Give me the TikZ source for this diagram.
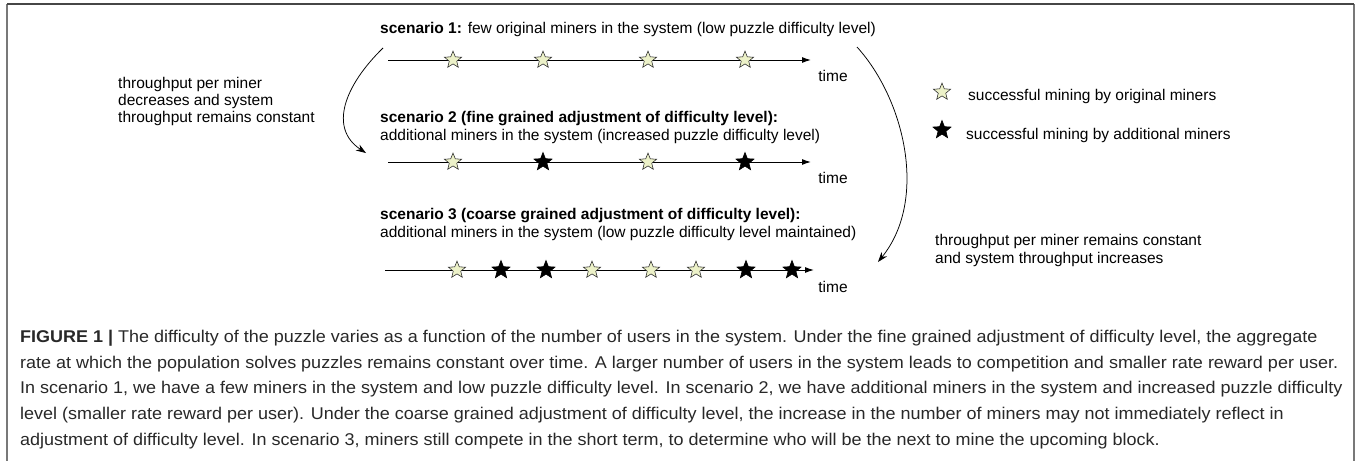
\documentclass[tikz,border=0pt]{standalone}
\usepackage{fontspec}
\setmainfont{Liberation Sans}
\usetikzlibrary{shapes.geometric,arrows.meta}
\definecolor{starfill}{RGB}{236,241,200}
\definecolor{framegray}{RGB}{120,120,120}
\definecolor{topgray}{RGB}{70,70,70}
\definecolor{captext}{RGB}{40,40,40}
\newlength\capw
\newcommand\capfont{\fontsize{17}{20}\selectfont}
\begin{document}
\settowidth\capw{\capfont rate at which the population solves puzzles remains constant over time. A larger number of users in the system leads to competition and smaller rate reward per user.}%
\pgfmathsetmacro\capscale{1318/\capw}%
\begin{tikzpicture}[x=1pt,y=-1pt,
  txt/.style={anchor=base west, inner sep=0pt, font=\fontsize{15.5}{17}\selectfont},
  timelbl/.style={anchor=base, inner sep=0pt, font=\fontsize{15.5}{17}\selectfont},
  capline/.style={anchor=base west, inner sep=0pt, text=captext, font=\capfont},
  ostar/.style={star, star points=5, star point ratio=2.3, minimum size=18pt, inner sep=0pt, draw=black!85, line width=0.55pt, fill=starfill},
  bstar/.style={star, star points=5, star point ratio=2.3, minimum size=19pt, inner sep=0pt, draw=black, line width=0.6pt, fill=black},
  tline/.style={line width=1pt, -{Latex[length=9pt,width=6pt]}},
  carrow/.style={line width=0.75pt, -{Stealth[length=10pt,width=7pt]}},
  framel/.style={line width=2pt}]
\useasboundingbox (0,0) rectangle (1362,461);
% frame
\coordinate (ftl) at (7,4);
\coordinate (ftr) at (1354,4);
\coordinate (fbl) at (7,461);
\coordinate (fbr) at (1354,461);
\draw[framel, framegray] (ftl) -- (fbl);
\draw[framel, framegray] (ftr) -- (fbr);
\draw[framel, topgray] (ftl) -- (ftr);

% scenario titles
\node[txt] (s1) at (380,33) {\textbf{scenario 1:} few original miners in the system (low puzzle difficulty level)};
\node[txt] (s2a) at (380,122) {\textbf{scenario 2 (fine grained adjustment of difficulty level):}};
\node[txt] (s2b) at (380,140) {additional miners in the system (increased puzzle difficulty level)};
\node[txt] (s3a) at (380,219) {\textbf{scenario 3 (coarse grained adjustment of difficulty level):}};
\node[txt] (s3b) at (380,237) {additional miners in the system (low puzzle difficulty level maintained)};

% timelines
\coordinate (t1s) at (388,60);  \coordinate (t1e) at (811,60);
\coordinate (t2s) at (388,162); \coordinate (t2e) at (811,162);
\coordinate (t3s) at (385,270); \coordinate (t3e) at (814,270);
\draw[tline] (t1s) -- (t1e);
\draw[tline] (t2s) -- (t2e);
\draw[tline] (t3s) -- (t3e);
\node[timelbl] (time1) at (833,81) {time};
\node[timelbl] (time2) at (833,183) {time};
\node[timelbl] (time3) at (833,292) {time};

% stars timeline 1
\node[ostar] (a1) at (453,60) {};
\node[ostar] (a2) at (543,60) {};
\node[ostar] (a3) at (648,60) {};
\node[ostar] (a4) at (745,60) {};
% stars timeline 2
\node[ostar] (b1) at (453,162) {};
\node[bstar] (b2) at (543,162) {};
\node[ostar] (b3) at (648,162) {};
\node[bstar] (b4) at (745,162) {};
% stars timeline 3
\node[ostar] (c1) at (457,270) {};
\node[bstar] (c2) at (501,270) {};
\node[bstar] (c3) at (546,270) {};
\node[ostar] (c4) at (592,270) {};
\node[ostar] (c5) at (651,270) {};
\node[ostar] (c6) at (696,270) {};
\node[bstar] (c7) at (746,270) {};
\node[bstar] (c8) at (792,270) {};

% left annotation
\node[txt] (l1) at (118,88) {throughput per miner};
\node[txt] (l2) at (118,105) {decreases and system};
\node[txt] (l3) at (118,122) {throughput remains constant};
\coordinate (lcs) at (383,48);
\coordinate (lce) at (366,153);
\draw[carrow] (lcs) .. controls (345,85) and (328,128) .. (lce);

% right annotation
\coordinate (rcs) at (857,47);
\coordinate (rce) at (878,262);
\draw[carrow] (rcs) .. controls (905,100) and (928,200) .. (rce);
\node[txt] (r1) at (935,245) {throughput per miner remains constant};
\node[txt] (r2) at (935,263) {and system throughput increases};

% legend
\node[ostar] (lg1) at (942,92) {};
\node[txt] (lg1t) at (968,100) {successful mining by original miners};
\node[bstar] (lg2) at (942,130) {};
\node[txt] (lg2t) at (966,139) {successful mining by additional miners};

% caption
\node[capline] (c1l) at (20,342) {\scalebox{\capscale}[1]{\textbf{FIGURE 1 |} The difficulty of the puzzle varies as a function of the number of users in the system. Under the fine grained adjustment of difficulty level, the aggregate}};
\node[capline] (c2l) at (20,368) {\scalebox{\capscale}[1]{rate at which the population solves puzzles remains constant over time. A larger number of users in the system leads to competition and smaller rate reward per user.}};
\node[capline] (c3l) at (20,393) {\scalebox{\capscale}[1]{In scenario 1, we have a few miners in the system and low puzzle difficulty level. In scenario 2, we have additional miners in the system and increased puzzle difficulty}};
\node[capline] (c4l) at (20,419) {\scalebox{\capscale}[1]{level (smaller rate reward per user). Under the coarse grained adjustment of difficulty level, the increase in the number of miners may not immediately reflect in}};
\node[capline] (c5l) at (20,445) {\scalebox{\capscale}[1]{adjustment of difficulty level. In scenario 3, miners still compete in the short term, to determine who will be the next to mine the upcoming block.}};
\end{tikzpicture}
\end{document}
